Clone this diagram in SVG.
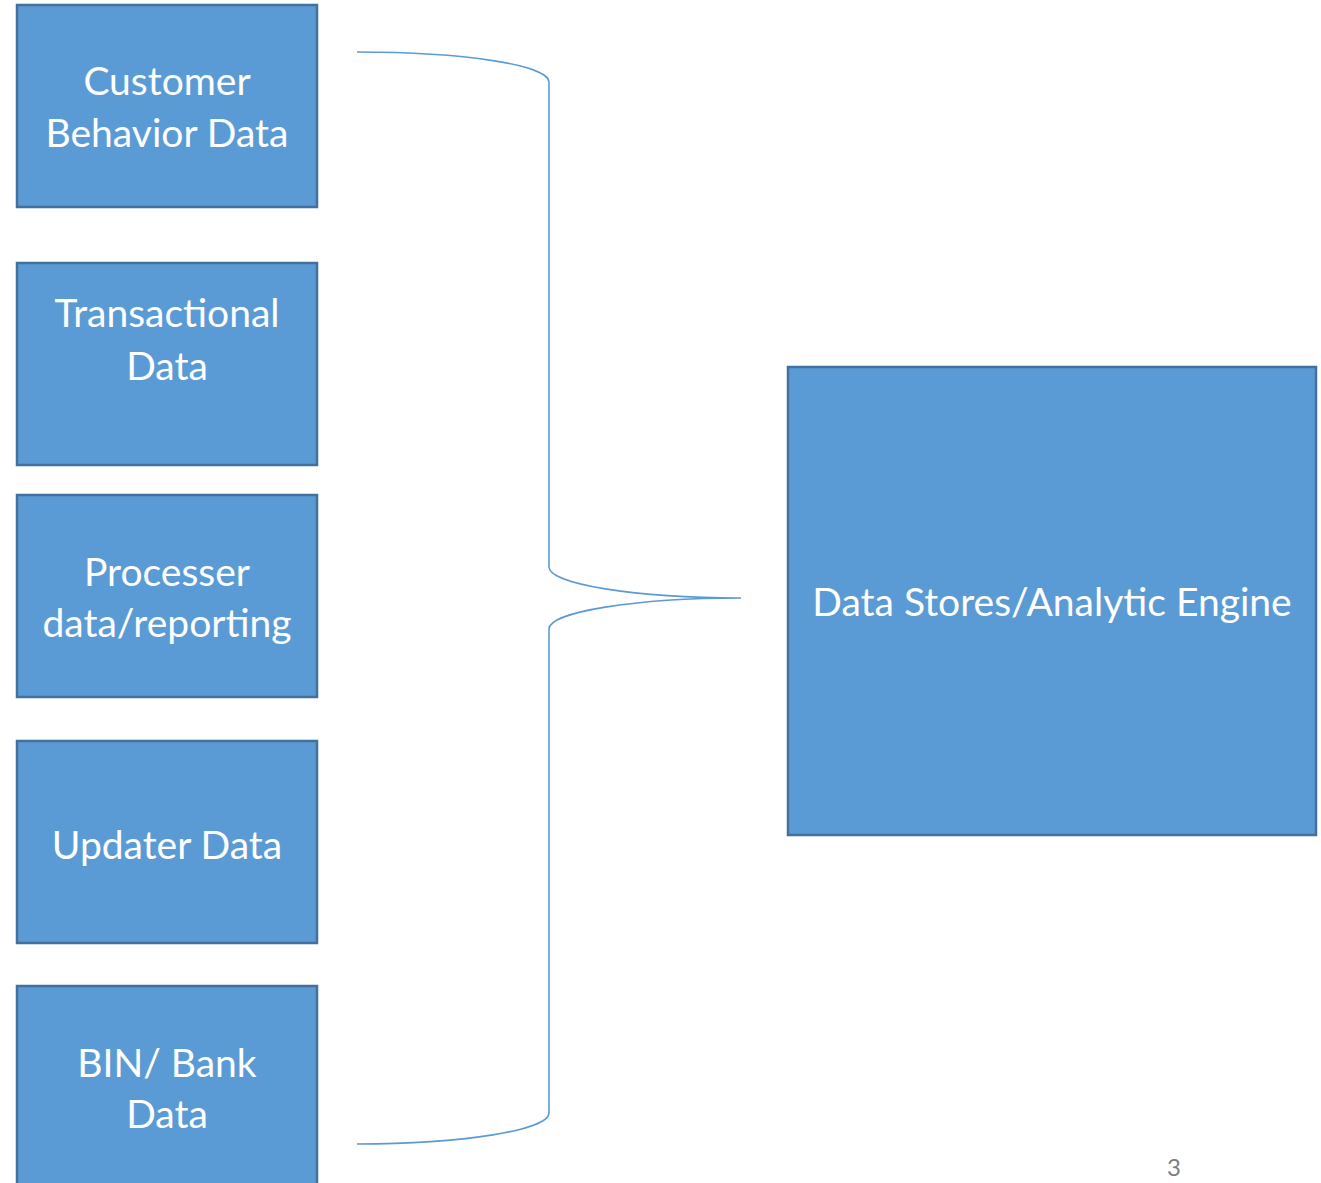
<svg xmlns="http://www.w3.org/2000/svg" width="1321" height="1183" viewBox="0 0 1321 1183">
  <style>
    .box { fill: #5B9BD5; stroke: #41719C; stroke-width: 2.5; }
    .label { fill: #FFFFFF; font-family: Lato, "Open Sans", "Liberation Sans", sans-serif; font-size: 39px; text-anchor: middle; }
    .brace { fill: none; stroke: #5B9BD5; stroke-width: 1.6; }
    .page { fill: #7F7F7F; font-family: Lato, "Liberation Sans", sans-serif; font-size: 24px; text-anchor: middle; }
  </style>
  <rect width="1321" height="1183" fill="#FFFFFF"/>

  <!-- source boxes -->
  <g id="customer-behavior">
    <rect class="box" x="17" y="5" width="300" height="202"/>
    <text class="label" x="167" y="95">Customer</text>
    <text class="label" x="167" y="147">Behavior Data</text>
  </g>
  <g id="transactional">
    <rect class="box" x="17" y="263" width="300" height="202"/>
    <text class="label" x="167" y="327">Transactional</text>
    <text class="label" x="167" y="380">Data</text>
  </g>
  <g id="processer">
    <rect class="box" x="17" y="495" width="300" height="202"/>
    <text class="label" x="167" y="586">Processer</text>
    <text class="label" x="167" y="637">data/reporting</text>
  </g>
  <g id="updater">
    <rect class="box" x="17" y="741" width="300" height="202"/>
    <text class="label" x="167" y="859">Updater Data</text>
  </g>
  <g id="bin-bank">
    <rect class="box" x="17" y="986" width="300" height="230"/>
    <text class="label" x="167" y="1077">BIN/ Bank</text>
    <text class="label" x="167" y="1128">Data</text>
  </g>

  <!-- target box -->
  <g id="data-stores">
    <rect class="box" x="788" y="367" width="528" height="468"/>
    <text class="label" x="1052" y="616">Data Stores/Analytic Engine</text>
  </g>

  <!-- right brace joining the sources -->
  <g id="connectors">
    <path class="brace" d="M357,52 C463,52 549,65 549,82 L549,567 C549,584 635,598 741,598 C635,598 549,612 549,629 L549,1113 C549,1130 463,1144 357,1144"/>
  </g>

  <text class="page" x="1174" y="1176">3</text>
</svg>
